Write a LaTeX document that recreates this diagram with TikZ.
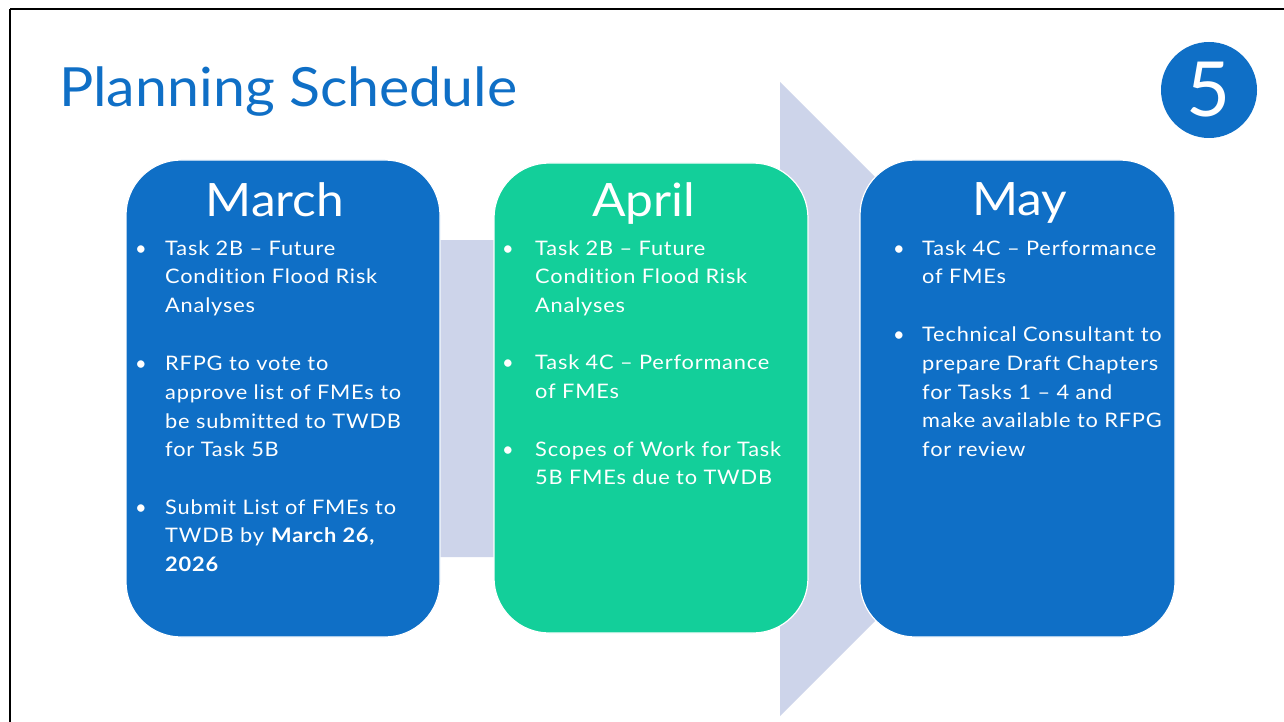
\documentclass[tikz,border=0pt]{standalone}
\usepackage{fontspec}
\setmainfont{Lato}
\newfontfamily\bodyfont[FakeStretch=1.09,LetterSpace=4,Ligatures={NoCommon}]{Lato}
\newfontfamily\headfont[FakeStretch=1.08]{Lato}
\newfontfamily\titlefont[FakeStretch=1.06]{Lato}
\definecolor{oblue}{HTML}{0F6FC6}
\definecolor{ogreen}{HTML}{13CF9A}
\definecolor{arrowc}{HTML}{CDD4EA}
\newcommand{\firstline}{\rule{0pt}{20pt}}
\tikzset{
  monthbox/.style={draw=white, line width=1.2pt, rounded corners=55pt},
  monthtitle/.style={text=white, anchor=base, font=\headfont\fontsize{46}{50}\selectfont, inner sep=0pt},
  bullettext/.style={text=white, anchor=north west, align=left, inner sep=0pt, font=\bodyfont\fontsize{20}{28.7}\selectfont},
  bulletdot/.style={text=white, anchor=base, inner sep=0pt, font=\fontsize{20}{28.7}\selectfont}
}
\begin{document}
\begin{tikzpicture}[x=1pt,y=-1pt]
\useasboundingbox (0,0) rectangle (1284,722);
\fill[white] (0,0) rectangle (1284,722);
% frame lines
\draw[black, line width=2pt] (10,9) -- (1284,9);
\draw[black, line width=2pt] (10,9) -- (10,722);
% title
\node[anchor=base west, inner sep=0pt, text=oblue, font=\titlefont\fontsize{54}{60}\selectfont] (title) at (59,107) {Planning Schedule};
% number badge
\node[circle, fill=oblue, minimum size=96pt, inner sep=0pt, text=white, font=\fontsize{76}{80}\selectfont] (badge) at (1209,90) {5};
% background arrow
\fill[arrowc] (300,240) -- (780,240) -- (780,82) -- (1097,399) -- (780,716) -- (780,557) -- (300,557) -- cycle;
% boxes
\draw[monthbox, fill=oblue] (126,160) rectangle (440,637);
\draw[monthbox, fill=ogreen] (494,163) rectangle (808,633);
\draw[monthbox, fill=oblue] (860,160) rectangle (1175,637);
% month titles
\node[monthtitle] (march) at (275,216.7) {March};
\node[monthtitle] (april) at (644,216.7) {April};
\node[monthtitle] (may) at (1020,215) {May};
% March bullets
\node[bulletdot] (m1d) at (141,255) {•};
\node[bullettext] (m1) at (165,235) {\firstline Task 2B – Future\\Condition Flood Risk\\Analyses};
\node[bulletdot] (m2d) at (141,370.5) {•};
\node[bullettext] (m2) at (165,350.5) {\firstline RFPG to vote to\\approve list of FMEs to\\be submitted to TWDB\\for Task 5B};
\node[bulletdot] (m3d) at (141,514) {•};
\node[bullettext] (m3) at (165,494) {\firstline Submit List of FMEs to\\TWDB by \textbf{March 26,}\\\textbf{2026}};
% April bullets
\node[bulletdot] (a1d) at (508,255) {•};
\node[bullettext] (a1) at (535,235) {\firstline Task 2B – Future\\Condition Flood Risk\\Analyses};
\node[bulletdot] (a2d) at (508,369.5) {•};
\node[bullettext] (a2) at (535,349.5) {\firstline Task 4C – Performance\\of FMEs};
\node[bulletdot] (a3d) at (508,456) {•};
\node[bullettext] (a3) at (535,436) {\firstline Scopes of Work for Task\\5B FMEs due to TWDB};
% May bullets
\node[bulletdot] (y1d) at (899,255) {•};
\node[bullettext] (y1) at (922,235) {\firstline Task 4C – Performance\\of FMEs};
\node[bulletdot] (y2d) at (899,341.5) {•};
\node[bullettext] (y2) at (922,321.5) {\firstline Technical Consultant to\\prepare Draft Chapters\\for Tasks 1 – 4 and\\make available to RFPG\\for review};
\end{tikzpicture}
\end{document}
